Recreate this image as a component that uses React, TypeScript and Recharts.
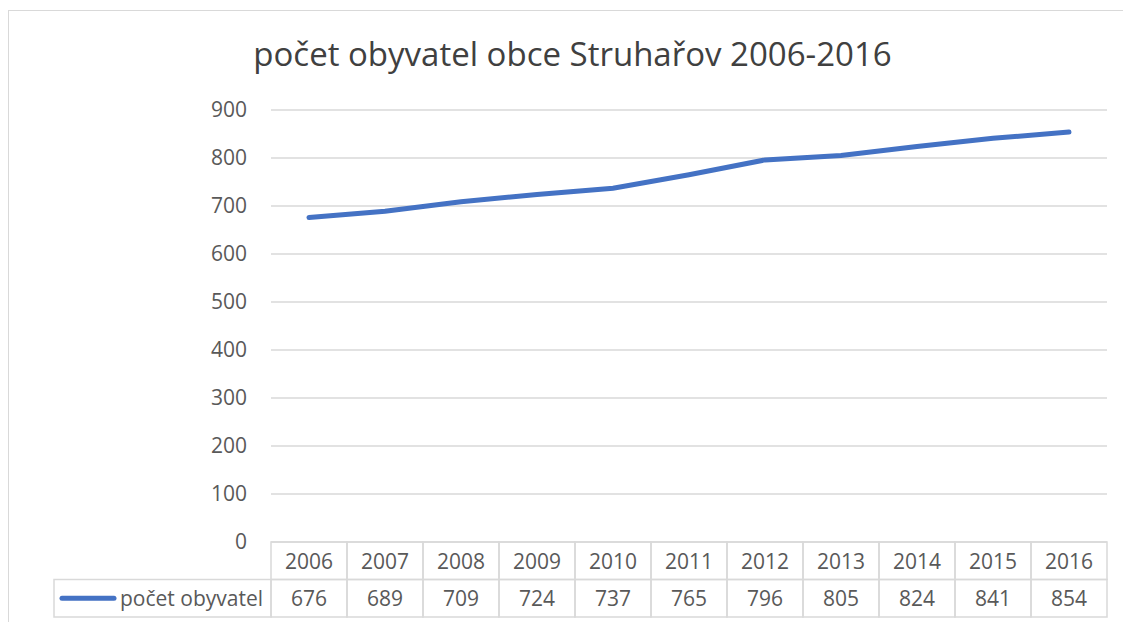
import { LineChart, Line, XAxis, YAxis, CartesianGrid } from 'recharts'

const years = ['2006', '2007', '2008', '2009', '2010', '2011', '2012', '2013', '2014', '2015', '2016']
const population = [676, 689, 709, 724, 737, 765, 796, 805, 824, 841, 854]
const yTicks = [0, 100, 200, 300, 400, 500, 600, 700, 800, 900]
const seriesName = 'počet obyvatel'
const title = 'počet obyvatel obce Struhařov 2006-2016'

const data = years.map((year, i) => ({ year, value: population[i] }))

const W = 1110
const H = 610
const M = { top: 99, right: 12, left: 0, bottom: 0 }
const Y_AXIS_W = 262
const X_AXIS_H = 79
const colW = (W - M.left - M.right - Y_AXIS_W) / years.length
const rowH = 37.5
const legendW = 217

const blue = '#4472C4'
const grid = '#d9d9d9'
const text = '#595959'
const font = '"Open Sans", sans-serif'

function TableTick(props: { x?: number; y?: number; index?: number; payload?: { value: string } }) {
  const { x = 0, y = 0, index = 0, payload } = props
  const left = x - colW / 2
  return (
    <g>
      <rect x={left} y={y} width={colW} height={rowH} fill="none" stroke={grid} strokeWidth={1.5} />
      <rect x={left} y={y + rowH} width={colW} height={rowH} fill="none" stroke={grid} strokeWidth={1.5} />
      <text x={x} y={y + rowH / 2} textAnchor="middle" dominantBaseline="central" fill={text} fontSize={21} fontFamily={font}>
        {payload?.value}
      </text>
      <text x={x} y={y + rowH * 1.5} textAnchor="middle" dominantBaseline="central" fill={text} fontSize={21} fontFamily={font}>
        {population[index]}
      </text>
      {index === 0 && (
        <g>
          <rect x={left - legendW} y={y + rowH} width={legendW} height={rowH} fill="none" stroke={grid} strokeWidth={1.5} />
          <line x1={left - legendW + 8} x2={left - legendW + 60} y1={y + rowH * 1.5} y2={y + rowH * 1.5} stroke={blue} strokeWidth={5} strokeLinecap="round" />
          <text x={left - 8} y={y + rowH * 1.5} textAnchor="end" dominantBaseline="central" fill={text} fontSize={21} fontFamily={font}>
            {seriesName}
          </text>
        </g>
      )}
    </g>
  )
}

export default function App() {
  return (
    <>
      <style>{'body{margin:0;overflow:hidden}'}</style>
      <div
        style={{
          position: 'absolute',
          left: 8,
          top: 10,
          width: 1140,
          height: 700,
          border: `1.5px solid ${grid}`,
          background: '#fff',
        }}
      >
        <div
          style={{
            position: 'absolute',
            left: 0,
            top: 23,
            width: 1127,
            textAlign: 'center',
            fontFamily: font,
            fontSize: 33,
            lineHeight: '40px',
            color: '#404040',
          }}
        >
          {title}
        </div>
        <div style={{ position: 'absolute', left: 0, top: 0 }}>
          <LineChart width={W} height={H} data={data} margin={M}>
            <CartesianGrid vertical={false} stroke={grid} strokeWidth={1.5} />
            <XAxis
              dataKey="year"
              scale="band"
              height={X_AXIS_H}
              axisLine={false}
              tickLine={false}
              tickSize={0}
              tickMargin={0}
              interval={0}
              tick={<TableTick />}
            />
            <YAxis
              width={Y_AXIS_W}
              domain={[0, 900]}
              ticks={yTicks}
              axisLine={false}
              tickLine={false}
              tickSize={0}
              tickMargin={24}
              tick={{ fill: text, fontSize: 21, fontFamily: font }}
            />
            <Line
              type="linear"
              dataKey="value"
              name={seriesName}
              stroke={blue}
              strokeWidth={5}
              strokeLinecap="round"
              dot={false}
              isAnimationActive={false}
            />
          </LineChart>
        </div>
      </div>
    </>
  )
}
